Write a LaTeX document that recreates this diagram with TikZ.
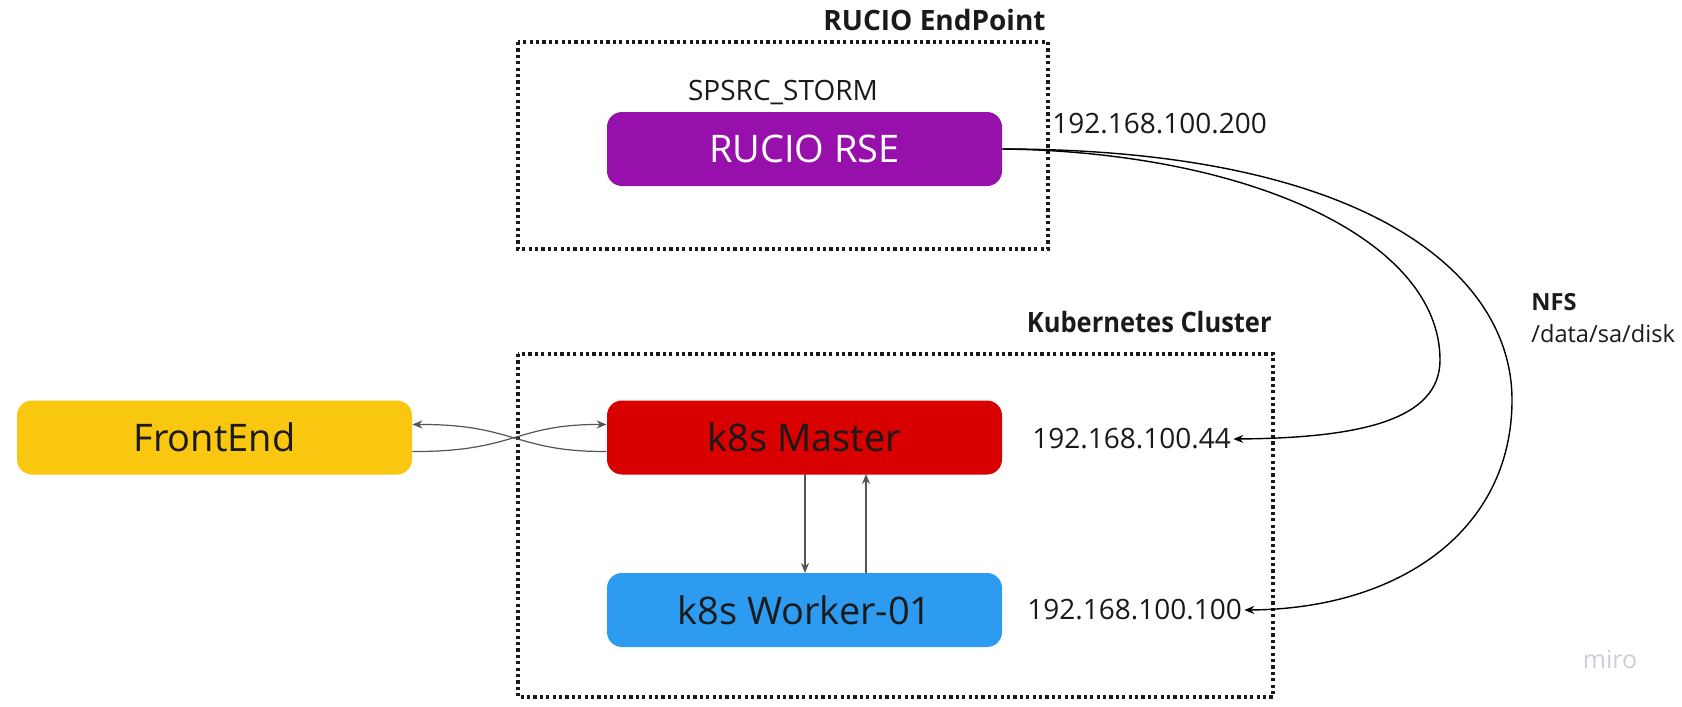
\documentclass[tikz,border=0pt]{standalone}
\usepackage{fontspec}
\setmainfont{Open Sans}
\usetikzlibrary{arrows.meta}
\definecolor{rsepurple}{RGB}{152,16,172}
\definecolor{masterred}{RGB}{217,0,0}
\definecolor{workerblue}{RGB}{45,156,240}
\definecolor{frontyellow}{RGB}{249,199,16}
\definecolor{txtdark}{RGB}{26,26,26}
\definecolor{linegray}{RGB}{85,85,85}
\definecolor{mirogray}{RGB}{205,205,220}
\begin{document}
\begin{tikzpicture}[x=0.5pt,y=-0.5pt,
  box/.style={rounded corners=7.5pt,minimum width=197.5pt,minimum height=37pt,inner sep=0pt,font=\fontsize{19}{22}\selectfont,text=txtdark},
  group/.style={draw=txtdark,line width=1.6pt,dash pattern=on 1.6pt off 1.6pt},
  title/.style={font=\fontsize{14}{16}\selectfont\bfseries,text=txtdark,inner sep=0pt},
  lbl/.style={font=\fontsize{14}{16}\selectfont,text=txtdark,inner sep=0pt},
  small/.style={font=\fontsize{11.8}{13}\selectfont,text=txtdark,inner sep=0pt},
  link/.style={draw=linegray,line width=0.6pt,-{Stealth[length=5pt,width=4pt]}},
  nfs/.style={draw=black,line width=0.7pt,-{Stealth[length=5pt,width=4pt]}}]
\useasboundingbox[fill=white] (0,0) rectangle (1682,707);
% groups
\draw[group] (518,42) rectangle (1048,249);
\node[title,anchor=east] (t1) at (1046,20) {RUCIO EndPoint};
\draw[group] (518,354) rectangle (1273,697);
\node[title,anchor=east,xscale=0.91,transform shape] (t2) at (1272,322) {Kubernetes Cluster};
% boxes
\node[box,fill=rsepurple,text=white] (rse) at (804.5,149) {RUCIO RSE};
\node[lbl] (storm) at (783,92) {SPSRC\_STORM};
\node[box,fill=frontyellow] (fe) at (214.5,437.5) {FrontEnd};
\node[box,fill=masterred] (master) at (804.5,437.5) {k8s Master};
\node[box,fill=workerblue] (worker) at (804.5,610) {k8s Worker-01};
% labels
\node[lbl,anchor=west] (ip200) at (1052,124) {192.168.100.200};
\node[lbl,anchor=west] (ip44) at (1032,439) {192.168.100.44};
\node[lbl,anchor=west] (ip100) at (1027,610) {192.168.100.100};
\node[small,font=\fontsize{11.8}{13}\selectfont\bfseries,anchor=west] (nfs) at (1531,302) {NFS};
\node[small,anchor=west] (path) at (1531,334) {/data/sa/disk};
\node[font=\fontsize{12.5}{14}\selectfont,text=mirogray,inner sep=0pt] (miro) at (1610,659) {miro};
% front end <-> master
\coordinate (feU) at ([yshift=6.5pt]fe.east);
\coordinate (feL) at ([yshift=-7pt]fe.east);
\coordinate (mU) at ([yshift=6.5pt]master.west);
\coordinate (mL) at ([yshift=-7pt]master.west);
\draw[link] (feL) .. controls (515,452) and (515,424) .. (mU);
\draw[link] (mL) .. controls (515,452) and (515,424) .. (feU);
% master <-> worker
\draw[link] (805,474) -- (805,573);
\draw[link] (866,573) -- (866,474);
% NFS curves
\draw[nfs] (rse.east) .. controls (1250,152) and (1440,240) .. (1440,360)
  .. controls (1440,420) and (1360,438) .. ([xshift=1pt]ip44.east);
\draw[nfs] (rse.east) .. controls (1360,149) and (1512,270) .. (1512,400)
  .. controls (1512,530) and (1400,609) .. ([xshift=1pt]ip100.east);
\end{tikzpicture}
\end{document}
